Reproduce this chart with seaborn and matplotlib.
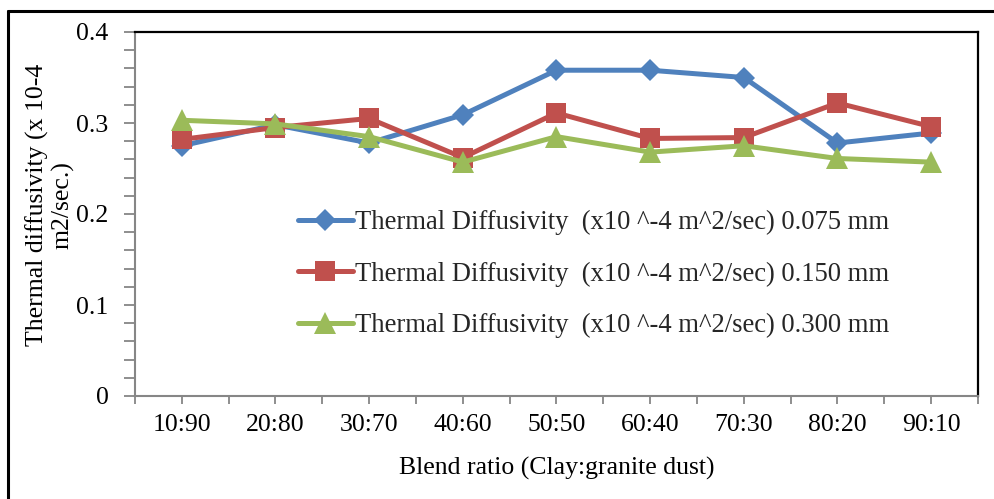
import numpy as np
import pandas as pd
import seaborn as sns
import matplotlib
matplotlib.use("Agg")
import matplotlib.pyplot as plt
from matplotlib.lines import Line2D
from matplotlib.ticker import FixedLocator

# Blend ratios (clay : granite dust)
ratios = ["10:90", "20:80", "30:70", "40:60", "50:50", "60:40", "70:30", "80:20", "90:10"]

# Thermal diffusivity (x10^-4 m^2/sec) by particle size
diff_0075 = [0.275, 0.298, 0.278, 0.309, 0.358, 0.358, 0.350, 0.278, 0.289]
diff_0150 = [0.282, 0.295, 0.305, 0.262, 0.311, 0.283, 0.284, 0.322, 0.296]
diff_0300 = [0.303, 0.299, 0.285, 0.257, 0.285, 0.268, 0.275, 0.261, 0.257]

series_names = [
    "Thermal Diffusivity  (x10 ^-4 m^2/sec) 0.075 mm",
    "Thermal Diffusivity  (x10 ^-4 m^2/sec) 0.150 mm",
    "Thermal Diffusivity  (x10 ^-4 m^2/sec) 0.300 mm",
]

y_ticks = [0.0, 0.1, 0.2, 0.3, 0.4]
y_ticklabels = ["0", "0.1", "0.2", "0.3", "0.4"]

pos = np.arange(len(ratios))
df = pd.concat(
    [
        pd.DataFrame({"pos": pos, "value": vals, "series": name})
        for name, vals in zip(series_names, [diff_0075, diff_0150, diff_0300])
    ],
    ignore_index=True,
)

sns.set_theme(style="white")
plt.rcParams["font.family"] = ["Liberation Serif", "DejaVu Serif"]
FS = 18.5

fig = plt.figure(figsize=(9.95, 4.99), dpi=100)
W, H = 995, 499
left, right, top, bottom = 135, 978, 32, 396
ax = fig.add_axes([left / W, 1 - bottom / H, (right - left) / W, (bottom - top) / H])

palette = dict(zip(series_names, ["#4F81BD", "#C0504D", "#9BBB59"]))
markers = dict(zip(series_names, ["D", "s", "^"]))
sns.lineplot(
    data=df, x="pos", y="value", hue="series", style="series",
    palette=palette, markers=markers, dashes=False, sort=False,
    linewidth=3.6, markersize=12, markeredgewidth=0, ax=ax, legend=True,
)
marker_sizes = [11.5, 14, 16.5]
for ln, ms in zip(ax.get_lines()[:3], marker_sizes):
    ln.set_markersize(ms)

ax.set_xlim(-0.5, len(ratios) - 0.5)
ax.set_ylim(0, 0.4)
ax.xaxis.set_major_locator(FixedLocator(pos))
ax.set_xticklabels(ratios)
ax.xaxis.set_minor_locator(FixedLocator(np.arange(-0.5, len(ratios), 1.0)))
ax.yaxis.set_major_locator(FixedLocator(y_ticks))
ax.set_yticklabels(y_ticklabels)
ax.yaxis.set_minor_locator(FixedLocator(np.arange(0, 0.4001, 0.02)))

axis_gray = "#868686"
for side in ("left", "bottom"):
    ax.spines[side].set_color(axis_gray)
    ax.spines[side].set_linewidth(1.5)
for side in ("top", "right"):
    ax.spines[side].set_color("black")
    ax.spines[side].set_linewidth(1.6)

ax.tick_params(axis="x", which="both", direction="out", length=6, width=1.3,
               color=axis_gray, bottom=True, labelsize=FS, pad=7, labelcolor="black")
ax.tick_params(axis="y", which="both", direction="out", length=8, width=1.3,
               color=axis_gray, left=True, labelsize=FS, pad=11, labelcolor="black")

ax.set_xlabel("Blend ratio (Clay:granite dust)", fontsize=FS, labelpad=15, color="black")
ax.set_ylabel("")
fig.text(50 / W, 1 - 205 / H, "Thermal diffusivity (x 10-4\nm2/sec.)", rotation=90,
         ha="center", va="center", multialignment="center", fontsize=FS,
         linespacing=1.1, color="black")

handles, labels = ax.get_legend_handles_labels()
leg = ax.legend(handles, labels, loc="center left",
                bbox_to_anchor=(298 / W, 1 - 274 / H), bbox_transform=fig.transFigure,
                frameon=False, fontsize=19.2, handlelength=2.05, handletextpad=0.1,
                labelspacing=0.98, borderpad=0, borderaxespad=0)
for h, ms in zip(leg.legend_handles, marker_sizes):
    h.set_markersize(ms)

# outer chart frame (top and left edges)
fig.add_artist(Line2D([8 / W, 1.0], [1 - 11 / H, 1 - 11 / H], color="black",
                      linewidth=2.2, transform=fig.transFigure))
fig.add_artist(Line2D([8 / W, 8 / W], [0, 1 - 11 / H], color="black",
                      linewidth=2.2, transform=fig.transFigure))

fig.savefig("out.png", dpi=100)
